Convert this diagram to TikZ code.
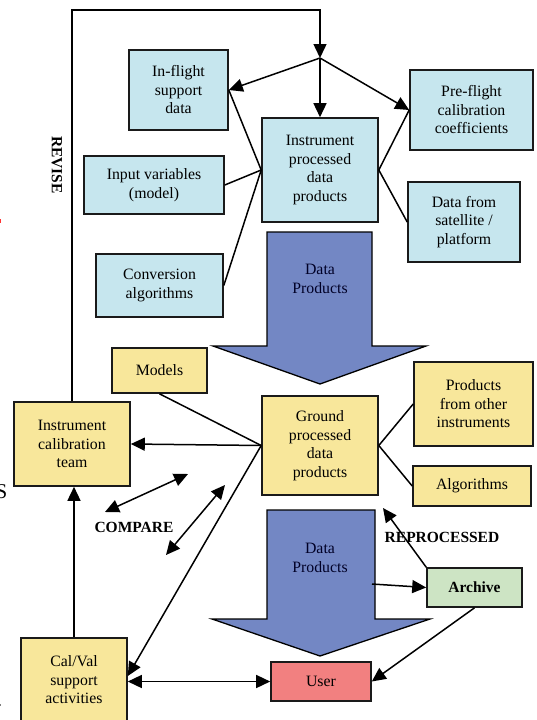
\documentclass[tikz,border=0pt]{standalone}
\usepackage{fontspec}
\setmainfont{Liberation Serif}
\usetikzlibrary{arrows.meta}
\definecolor{lblue}{HTML}{C6E6EE}
\definecolor{lyellow}{HTML}{F8E79B}
\definecolor{abl}{HTML}{7387C4}
\definecolor{lred}{HTML}{F28080}
\definecolor{lgreen}{HTML}{CDE4C4}
\definecolor{edge}{HTML}{1A1A1A}
\tikzset{
  box/.style={draw=edge, line width=1.6pt, inner sep=0pt, align=center,
    font=\fontsize{15.8}{18.5}\selectfont},
  bluebox/.style={box, fill=lblue},
  yelbox/.style={box, fill=lyellow},
  conn/.style={line width=1.5pt, draw=black},
  arr/.style={conn, -{Triangle[length=14pt,width=13pt]}},
  darr/.style={conn, {Triangle[length=14pt,width=13pt]}-{Triangle[length=14pt,width=13pt]}},
  bigarrow/.style={fill=abl, draw=black, line width=1.3pt, line join=miter},
  lbl/.style={font=\fontsize{15.5}{18.5}\selectfont\bfseries, inner sep=0pt},
  dtext/.style={font=\fontsize{15.8}{18.5}\selectfont, align=center, text=black!85!blue, inner sep=0pt}
}
\begin{document}
\begin{tikzpicture}[x=1pt,y=-1pt]
\useasboundingbox (0,0) rectangle (537,720);
\fill[white] (0,0) rectangle (537,720);

% big arrows
\draw[bigarrow] (267,232) -- (372,232) -- (372,346) -- (426,346) -- (320,384) -- (213,346) -- (267,346) -- cycle;
\node[dtext] (dp1) at (320,279) {Data\\Products};
\draw[bigarrow] (267,510) -- (375,510) -- (375,619) -- (430,619) -- (320,656) -- (212,619) -- (267,619) -- cycle;
\node[dtext] (dp2) at (320,558) {Data\\Products};

% boxes
\node[bluebox, minimum width=99pt, minimum height=80pt] (inflight) at (178.5,90) {In-flight\\support\\data};
\node[bluebox, minimum width=140pt, minimum height=58pt] (inputvar) at (154,185) {Input variables\\(model)};
\node[bluebox, minimum width=116pt, minimum height=104pt] (inst) at (320,170) {Instrument\\processed\\data\\products};
\node[bluebox, minimum width=123pt, minimum height=80pt] (preflight) at (471.5,110) {Pre-flight\\calibration\\coefficients};
\node[bluebox, minimum width=112pt, minimum height=80pt] (sat) at (464,222) {Data from\\satellite /\\platform};
\node[bluebox, minimum width=127pt, minimum height=63pt] (conv) at (159.5,285.5) {Conversion\\algorithms};
\node[yelbox, minimum width=95pt, minimum height=45pt] (models) at (159.5,370.5) {Models};
\node[yelbox, minimum width=116pt, minimum height=84pt] (calteam) at (72,444) {Instrument\\calibration\\team};
\node[yelbox, minimum width=116pt, minimum height=99pt] (ground) at (320,445.5) {Ground\\processed\\data\\products};
\node[yelbox, minimum width=119pt, minimum height=84pt] (products) at (473.5,404) {Products\\from other\\instruments};
\node[yelbox, minimum width=118pt, minimum height=40pt] (algos) at (472,486) {Algorithms};
\node[yelbox, minimum width=106pt, minimum height=84pt] (calval) at (74,680) {Cal/Val\\support\\activities};
\node[box, fill=lred, minimum width=100pt, minimum height=39pt] (user) at (321,681.5) {User};
\node[box, fill=lgreen, minimum width=95pt, minimum height=39pt, font=\fontsize{15.5}{18.5}\selectfont\bfseries] (archive) at (474.5,587.5) {Archive};

% labels
\node[lbl, rotate=-90] (revise) at (57,165) {REVISE};
\node[lbl] (compare) at (134,527) {COMPARE};
\node[lbl] (reproc) at (442,537) {REPROCESSED};
\node[font=\fontsize{21}{24}\selectfont, inner sep=0pt, anchor=base east] (cutS) at (7.5,498) {S};
\fill[red!80] (0,219) rectangle (1.2,222.5);
\fill[gray] (0,703.5) rectangle (1.2,705.5);

% coordinates
\coordinate (junction) at (320,58);
\coordinate (revtop) at (320,10);
\coordinate (c1a) at (188,474);
\coordinate (c1b) at (105,512);
\coordinate (c2a) at (225,485);
\coordinate (c2b) at (166,555);
\coordinate (dpout) at (372,584);
\coordinate (rp) at (383,508);

% connectors
\draw[arr] (calteam.north) |- (revtop) -- (junction);
\draw[arr] (junction) -- (inflight.east);
\draw[arr] (junction) -- (inst.north);
\draw[arr] (junction) -- (preflight.west);
\draw[conn] (inflight.east) -- (inst.west);
\draw[conn] (inputvar.east) -- (inst.west);
\draw[conn] (conv.east) -- (inst.west);
\draw[conn] (inst.east) -- (preflight.west);
\draw[conn] (inst.east) -- (sat.west);

\draw[conn] (models.south) -- (ground.west);
\draw[arr] (ground.west) -- (calteam.east);
\draw[arr] (ground.west) -- ([yshift=4pt]calval.east);
\draw[conn] (ground.east) -- (products.west);
\draw[conn] (ground.east) -- (algos.west);

\draw[darr] (c1a) -- (c1b);
\draw[darr] (c2a) -- (c2b);

\draw[arr] (calval.north) -- (calval.north |- calteam.south);
\draw[darr] (calval.east |- user.west) -- (user.west);
\draw[arr] (dpout) -- (archive.west);
\draw[arr] (archive.north west) -- (rp);
\draw[arr] (archive.south) -- (user.east);
\end{tikzpicture}
\end{document}
